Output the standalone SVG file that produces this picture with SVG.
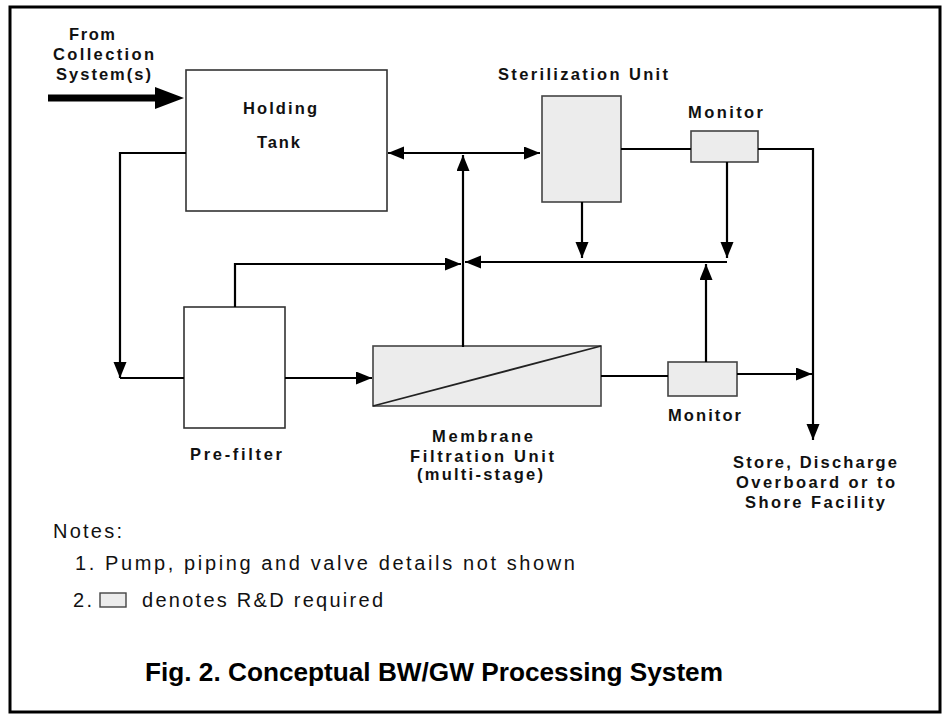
<svg xmlns="http://www.w3.org/2000/svg" width="946" height="717" viewBox="0 0 946 717">
<defs>
<style>
.lbl{font-family:"Liberation Sans",Arial,sans-serif;font-size:16.5px;font-weight:bold;fill:#111}
.note{font-family:"Liberation Sans",Arial,sans-serif;font-size:20px;fill:#111}
.title{font-family:"Liberation Sans",Arial,sans-serif;font-size:25px;font-weight:bold;fill:#000}
.box{fill:#fff;stroke:#333;stroke-width:1.6}
.rd{fill:#ececec;stroke:#444;stroke-width:1.6}
.ln{fill:none;stroke:#000;stroke-width:2.2}
</style>
<marker id="ah" markerUnits="userSpaceOnUse" markerWidth="17" markerHeight="14" refX="16" refY="6.5" orient="auto-start-reverse">
<path d="M0,0 L16,6.5 L0,13 z" fill="#000"/>
</marker>
</defs>
<rect x="0" y="0" width="946" height="717" fill="#fff"/>
<rect x="10" y="7" width="930" height="705" fill="none" stroke="#000" stroke-width="3"/>

<g id="source">
<text class="lbl" x="92" y="40" text-anchor="middle" textLength="46" lengthAdjust="spacing">From</text>
<text class="lbl" x="103.5" y="60" text-anchor="middle" textLength="101" lengthAdjust="spacing">Collection</text>
<text class="lbl" x="103.5" y="80" text-anchor="middle" textLength="95" lengthAdjust="spacing">System(s)</text>
<polygon points="48,94.5 155,94.5 155,87 184,98 155,109 155,101.5 48,101.5" fill="#000"/>
</g>

<g id="holding-tank">
<rect class="box" x="186" y="70" width="201" height="141"/>
<text class="lbl" x="280" y="114" text-anchor="middle" textLength="74" lengthAdjust="spacing">Holding</text>
<text class="lbl" x="278.5" y="148" text-anchor="middle" textLength="43" lengthAdjust="spacing">Tank</text>
</g>

<g id="sterilization-unit">
<text class="lbl" x="583" y="80" text-anchor="middle" textLength="170" lengthAdjust="spacing">Sterilization Unit</text>
<rect class="rd" x="542" y="96" width="79" height="106"/>
</g>

<g id="monitor-top">
<text class="lbl" x="725.5" y="118" text-anchor="middle" textLength="75" lengthAdjust="spacing">Monitor</text>
<rect class="rd" x="691" y="131" width="67" height="31"/>
</g>

<g id="pre-filter">
<rect class="box" x="184" y="307" width="101" height="121"/>
<text class="lbl" x="236" y="460" text-anchor="middle" textLength="92" lengthAdjust="spacing">Pre-filter</text>
</g>

<g id="membrane-filtration-unit">
<rect class="rd" x="373" y="346" width="228" height="60"/>
<line x1="373" y1="406" x2="601" y2="346" stroke="#222" stroke-width="1.8"/>
<text class="lbl" x="482.5" y="442" text-anchor="middle" textLength="101" lengthAdjust="spacing">Membrane</text>
<text class="lbl" x="482" y="462" text-anchor="middle" textLength="144" lengthAdjust="spacing">Filtration Unit</text>
<text class="lbl" x="480" y="480" text-anchor="middle" textLength="126" lengthAdjust="spacing">(multi-stage)</text>
</g>

<g id="monitor-bottom">
<rect class="rd" x="668" y="362" width="69" height="34"/>
<text class="lbl" x="704.5" y="421" text-anchor="middle" textLength="73" lengthAdjust="spacing">Monitor</text>
</g>

<g id="destination">
<text class="lbl" x="815" y="468" text-anchor="middle" textLength="164" lengthAdjust="spacing">Store, Discharge</text>
<text class="lbl" x="815.5" y="488" text-anchor="middle" textLength="159" lengthAdjust="spacing">Overboard or to</text>
<text class="lbl" x="815" y="508" text-anchor="middle" textLength="140" lengthAdjust="spacing">Shore Facility</text>
</g>

<g id="connectors">
<path class="ln" d="M186,153 H120 V378" marker-end="url(#ah)"/>
<path class="ln" d="M120,378 H184"/>
<path class="ln" d="M285,378 H372" marker-end="url(#ah)"/>
<path class="ln" d="M235,307 V264 H461" marker-end="url(#ah)"/>
<path class="ln" d="M463,347 V155" marker-end="url(#ah)"/>
<path class="ln" d="M388,153 H540" marker-start="url(#ah)" marker-end="url(#ah)"/>
<path class="ln" d="M621,149 H691"/>
<path class="ln" d="M758,149 H813 V440" marker-end="url(#ah)"/>
<path class="ln" d="M582,202 V258" marker-end="url(#ah)"/>
<path class="ln" d="M727,162 V258" marker-end="url(#ah)"/>
<path class="ln" d="M727,262 H465" marker-end="url(#ah)"/>
<path class="ln" d="M706,362 V264" marker-end="url(#ah)"/>
<path class="ln" d="M601,376 H668"/>
<path class="ln" d="M737,374 H812" marker-end="url(#ah)"/>
</g>

<g id="notes">
<text class="note" x="53" y="538" textLength="69" lengthAdjust="spacing">Notes:</text>
<text class="note" x="75" y="570" textLength="500" lengthAdjust="spacing">1. Pump, piping and valve details not shown</text>
<text class="note" x="73" y="607" textLength="19" lengthAdjust="spacing">2.</text>
<rect x="100" y="593" width="26" height="14" fill="#ececec" stroke="#444" stroke-width="1.4"/>
<text class="note" x="142" y="607" textLength="241" lengthAdjust="spacing">denotes R&amp;D required</text>
</g>

<g id="caption">
<text class="title" x="145" y="681" textLength="578" lengthAdjust="spacingAndGlyphs">Fig. 2. Conceptual BW/GW Processing System</text>
</g>
</svg>
